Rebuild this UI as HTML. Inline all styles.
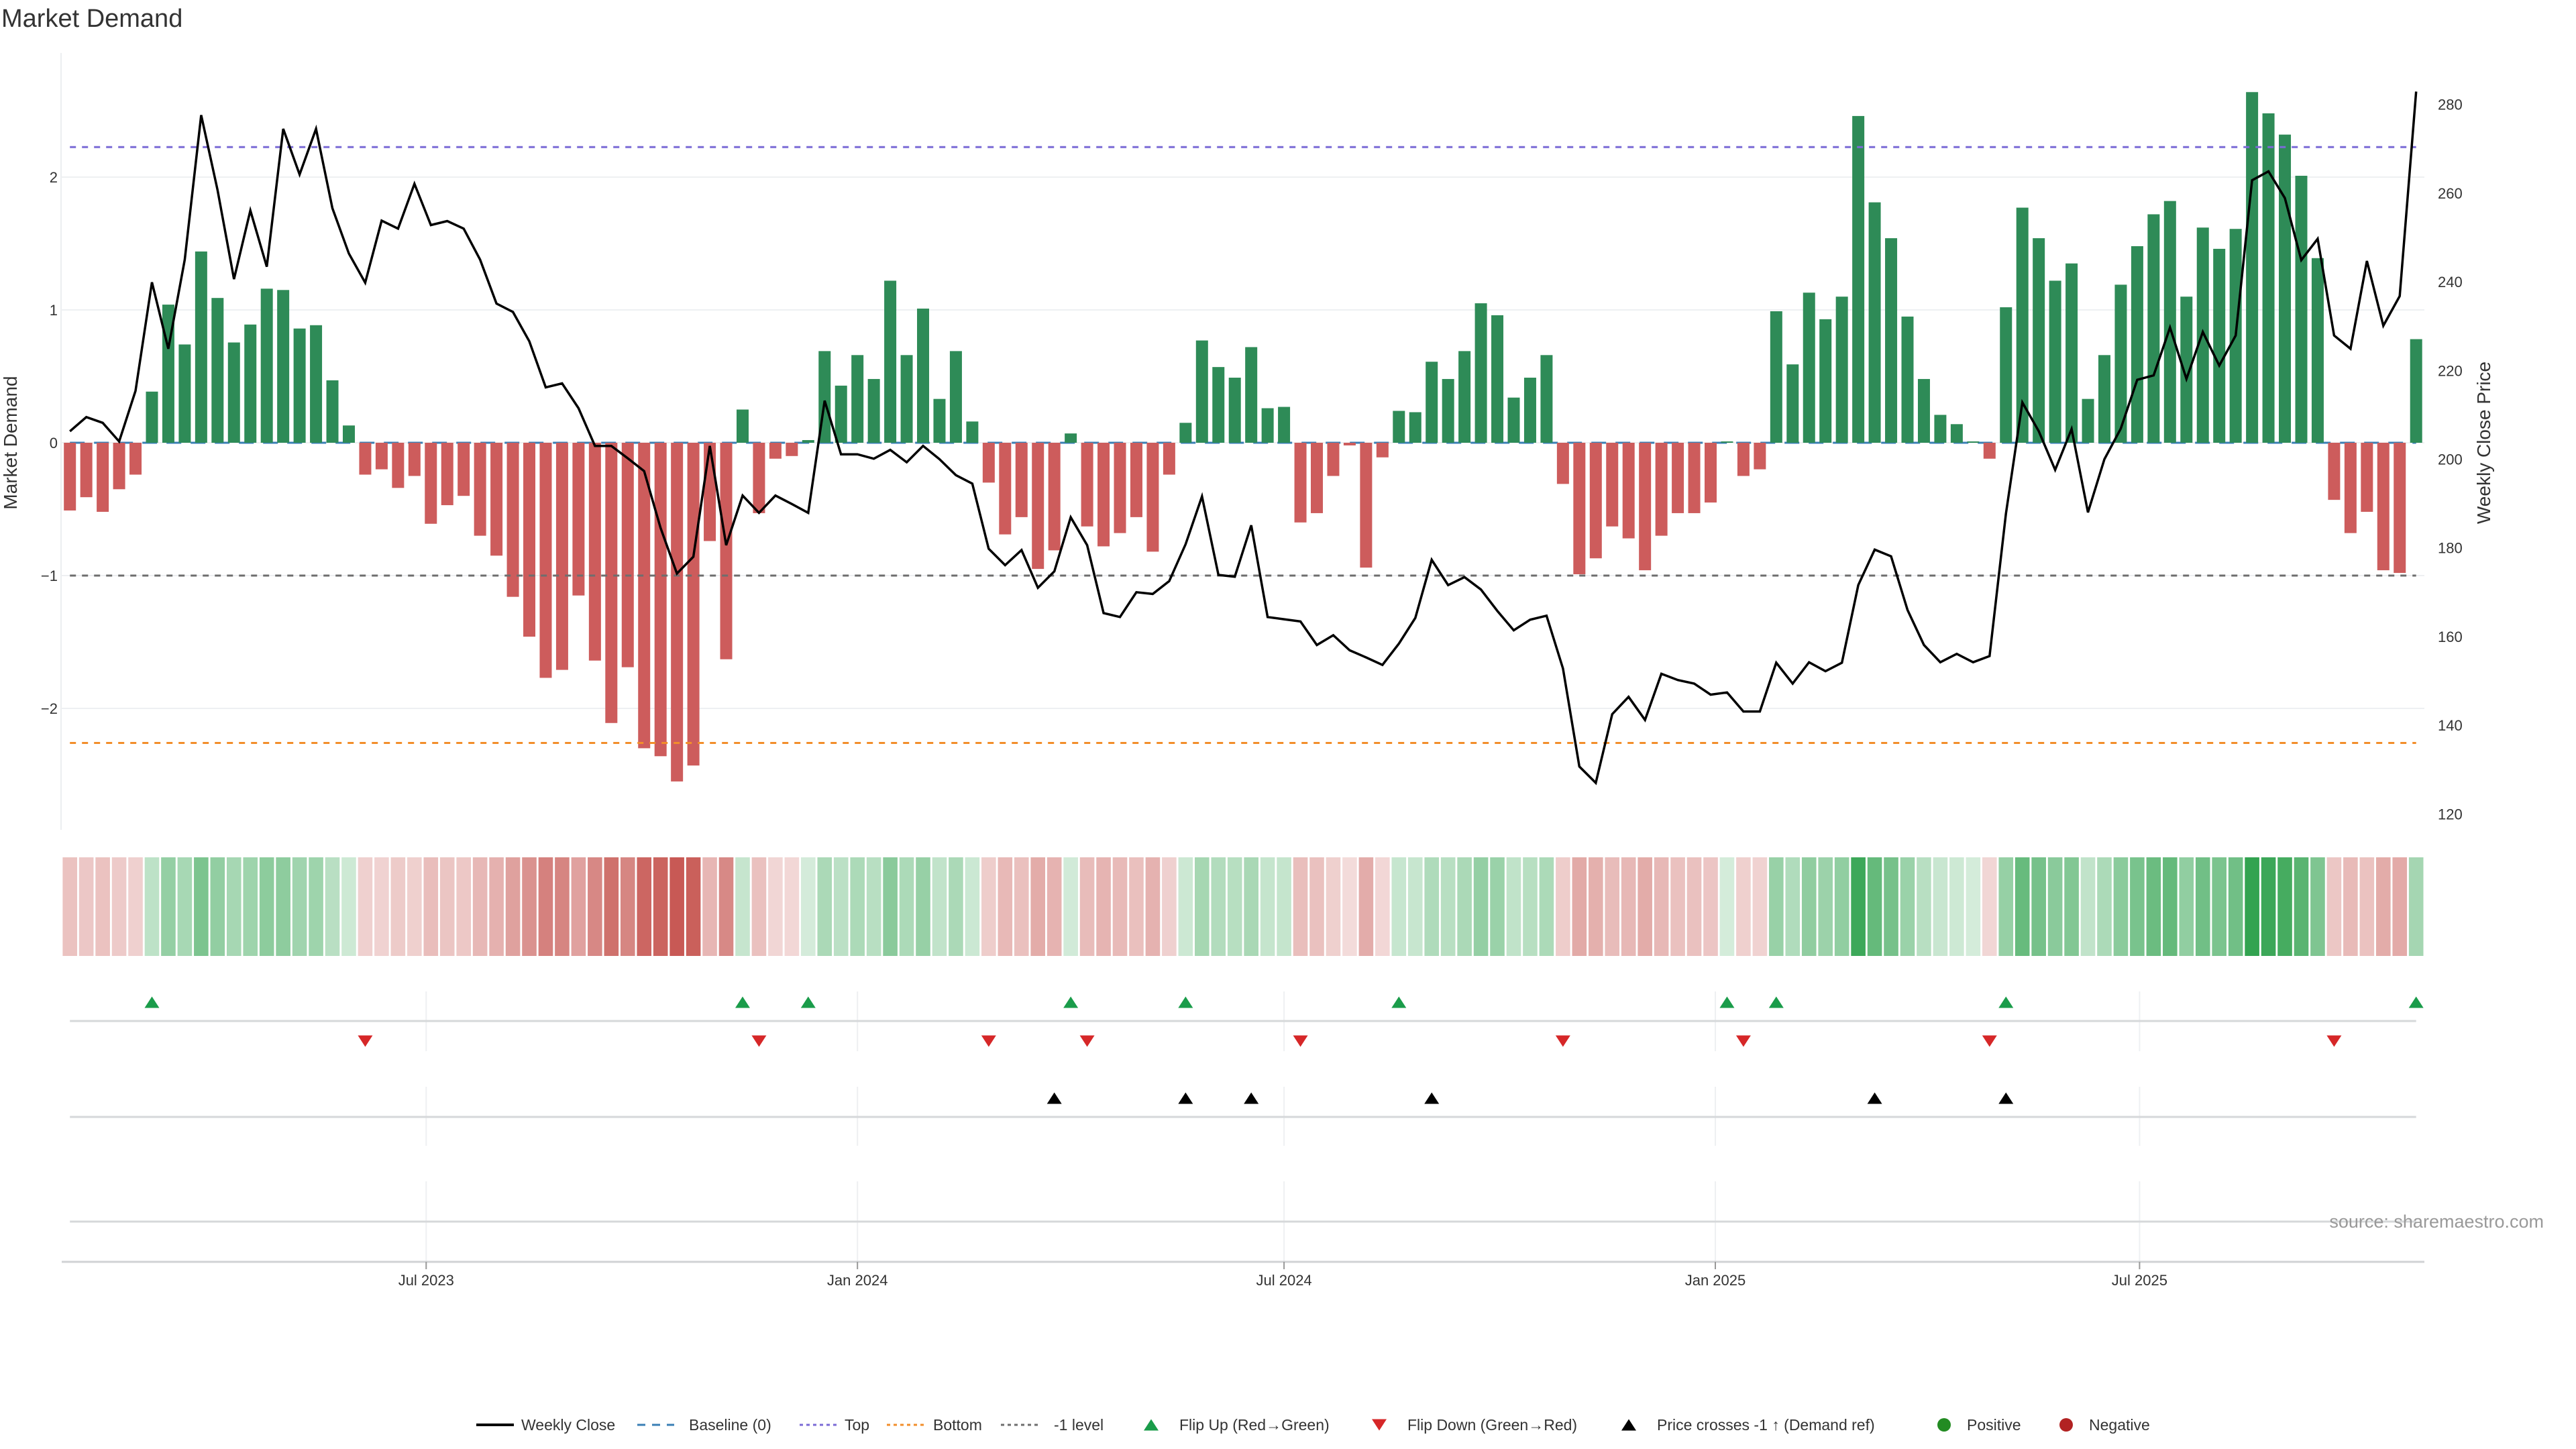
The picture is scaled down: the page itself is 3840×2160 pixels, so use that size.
<!DOCTYPE html>
<html><head><meta charset="utf-8"><title>Market Demand</title>
<style>
html,body{margin:0;padding:0;background:#fff;}
svg{display:block;font-family:"Liberation Sans","DejaVu Sans",sans-serif;}
</style></head>
<body>
<svg id="chart" width="3840" height="2160" viewBox="0 0 3840 2160" xmlns="http://www.w3.org/2000/svg">
<text x="2" y="40" font-size="38" fill="#333">Market Demand</text>
<g id="main"></g>
<g id="heat"></g>
<g id="markers"></g>
<g id="xaxis"></g>
<g id="legend"></g>
<text x="3792" y="1830" font-size="27" fill="#999" text-anchor="end">source: sharemaestro.com</text>
</svg>
<script>
const demand = [-0.51,-0.41,-0.52,-0.35,-0.24,0.385,1.04,0.74,1.44,1.09,0.755,0.89,1.16,1.15,0.86,0.885,0.47,0.13,-0.24,-0.20,
-0.34,-0.25,-0.61,-0.47,-0.40,-0.70,-0.85,-1.16,-1.46,-1.77,-1.71,-1.15,-1.64,-2.11,-1.69,-2.30,-2.36,-2.55,-2.43,-0.74,
-1.63,0.25,-0.53,-0.12,-0.10,0.02,0.69,0.43,0.66,0.48,1.22,0.66,1.01,0.33,0.69,0.16,-0.30,-0.69,-0.56,-0.95,
-0.81,0.07,-0.63,-0.78,-0.68,-0.56,-0.82,-0.24,0.15,0.77,0.57,0.49,0.72,0.26,0.27,-0.60,-0.53,-0.25,-0.02,-0.94,
-0.11,0.24,0.23,0.61,0.48,0.69,1.05,0.96,0.34,0.49,0.66,-0.31,-0.99,-0.87,-0.63,-0.72,-0.96,-0.70,-0.53,-0.53,
-0.45,0.01,-0.25,-0.20,0.99,0.59,1.13,0.93,1.10,2.46,1.81,1.54,0.95,0.48,0.21,0.14,0.01,-0.12,1.02,1.77,
1.54,1.22,1.35,0.33,0.66,1.19,1.48,1.72,1.82,1.10,1.62,1.46,1.61,2.64,2.48,2.32,2.01,1.39,-0.43,-0.68,
-0.52,-0.96,-0.98,0.78];
const price = [206.3,209.5,208.2,204.0,215.4,239.9,224.9,245.0,277.6,260.7,240.6,256.1,243.4,274.5,264.2,274.5,256.6,246.4,239.8,253.8,
252.0,262.1,252.8,253.7,252.0,245.0,235.1,233.2,226.6,216.2,217.1,211.5,203.0,203.0,200.2,197.3,184.5,174.2,178.0,203.0,
180.6,191.8,187.9,191.8,189.9,187.9,213.2,201.1,201.1,200.1,202.1,199.3,203.0,200.0,196.4,194.5,179.8,176.1,179.5,171.0,
174.7,186.9,180.6,165.3,164.4,170.0,169.6,172.5,180.8,191.6,173.9,173.5,185.1,164.4,163.9,163.4,158.1,160.3,156.9,155.3,
153.6,158.4,164.2,177.3,171.6,173.4,170.6,165.8,161.4,163.8,164.7,152.8,130.7,127.0,142.5,146.4,141.2,151.6,150.2,149.4,
146.9,147.4,143.1,143.1,154.1,149.4,154.2,152.2,154.1,171.6,179.6,178.1,166.0,158.1,154.2,156.1,154.2,155.6,187.7,212.8,
206.3,197.6,206.8,188.0,200.0,206.9,217.9,218.9,229.7,218.1,228.7,221.1,227.9,262.9,264.9,258.9,244.9,249.7,227.9,224.9,
244.7,230.1,236.8,282.9];
const demandTicks = [-2,-1,0,1,2];
const demandTickLabels = ["\u22122","\u22121","0","1","2"];
const priceTicks = [120,140,160,180,200,220,240,260,280];
const levels = [2.226, 0, -1, -2.26];
const xTickLabels = ["Jul 2023","Jan 2024","Jul 2024","Jan 2025","Jul 2025"];
const xTickDates = ["2023-07-01","2024-01-01","2024-07-01","2025-01-01","2025-07-01"];
const startDate = "2023-01-30";

const NS = "http://www.w3.org/2000/svg";
function mk(tag, attrs, parent){ const e=document.createElementNS(NS,tag); for(const k in attrs) e.setAttribute(k,attrs[k]); parent.appendChild(e); return e; }

const dayMs = 86400000;
const t0 = Date.parse(startDate);
const X0 = 104.2, PXDAY = 3.494;
function xDay(d){ return X0 + d*PXDAY; }
function xIdx(i){ return xDay(i*7); }
const Y0 = 660, PXU = 198;
function yD(v){ return Y0 - v*PXU; }
const P280 = 155.7, PXP = 6.61;
function yP(p){ return P280 - (p-280)*PXP; }
function pFromY(y){ return 280 - (y-P280)/PXP; }

const main = document.getElementById('main');
let l = mk('line',{x1:91,y1:79,x2:91,y2:1237,stroke:'#eceef0','stroke-width':2},main);


demandTicks.forEach((v,k)=>{
  const g = mk('line',{x1:91,y1:yD(v),x2:3614,y2:yD(v),stroke:'#eef0f2','stroke-width':2},main);
  
  
  const t = mk('text',{x:86,y:yD(v)+8,'font-size':22,fill:'#333','text-anchor':'end'},main);
  t.textContent = demandTickLabels[k];
  
  
});
priceTicks.forEach(p=>{
  const t = mk('text',{x:3634,y:yP(p)+8,'font-size':22,fill:'#333'},main);
  t.textContent = p;
  
  
});
let yt = mk('text',{x:0,y:0,'font-size':28,fill:'#333','text-anchor':'middle',transform:'translate(25,660) rotate(-90)'},main);
yt.textContent='Market Demand';


let yt2 = mk('text',{x:0,y:0,'font-size':28,fill:'#333','text-anchor':'middle',transform:'translate(3712,660) rotate(-90)'},main);
yt2.textContent='Weekly Close Price';



const xL = xIdx(0), xR = xIdx(demand.length-1);
let bl = mk('line',{x1:xL,y1:yD(levels[1]),x2:xR,y2:yD(levels[1]),stroke:'#3a7fb5','stroke-width':3,'stroke-dasharray':'22 14'},main);


demand.forEach((v,i)=>{
  const y = Math.min(yD(v),yD(0)), h = Math.abs(yD(v)-yD(0));
  const r = mk('rect',{x:xIdx(i)-9,y:y,width:18,height:Math.max(h,0.5),fill:v>=0?'#2e8b57':'#cd5c5c'},main);
  
  
});
const lvl = [[levels[0],'#7b6bd6','level-top','9 9'],[levels[2],'#6e6e6e','level-minus-one','9 9'],[levels[3],'#f28e2b','level-bottom','9 9']];
lvl.forEach(a=>{
  const e = mk('line',{x1:xL,y1:yD(a[0]),x2:xR,y2:yD(a[0]),stroke:a[1],'stroke-width':3,'stroke-dasharray':a[3]},main);
  
  
});
let pts = price.map((p,i)=>xIdx(i).toFixed(1)+','+yP(p).toFixed(1)).join(' ');
let pl = mk('polyline',{points:pts,fill:'none',stroke:'#000','stroke-width':3.5,'stroke-linejoin':'miter'},main);



const heat = document.getElementById('heat');
demand.forEach((v,i)=>{
  const a = 0.2 + 0.8*Math.min(Math.abs(v)/2.7,1);
  const r = mk('rect',{x:xIdx(i)-10.8,y:1278,width:21.6,height:147,fill:v>=0?'#2ea14c':'#c5524d','fill-opacity':a.toFixed(3)},heat);
  
  
});

const mkp = document.getElementById('markers');
const tickDays = xTickDates.map(d=>(Date.parse(d)-t0)/dayMs);
[[1478,1567],[1620,1708],[1761,1881]].forEach(s=>{
  tickDays.forEach(d=>{
    const e = mk('line',{x1:xDay(d),y1:s[0],x2:xDay(d),y2:s[1],stroke:'#eef0f2','stroke-width':2},mkp);
    
    
  });
});
[1522,1665,1821].forEach(y=>{
  const e = mk('line',{x1:xL,y1:y,x2:xR,y2:y,stroke:'#d6d8da','stroke-width':3},mkp);
  
  
});
function tri(x,y,up,color,name){
  const w=11,h=17;
  const p = up ? `${x-w},${y+h/2} ${x+w},${y+h/2} ${x},${y-h/2}` : `${x-w},${y-h/2} ${x+w},${y-h/2} ${x},${y+h/2}`;
  const e = mk('polygon',{points:p,fill:color},mkp);
  
  
}
const priceRef = pFromY(yD(-1));
for(let i=1;i<demand.length;i++){
  if(demand[i-1]<0 && demand[i]>=0) tri(xIdx(i),1494,true,'#1a9c4a','flip-up-marker');
  if(demand[i-1]>=0 && demand[i]<0) tri(xIdx(i),1552,false,'#d62728','flip-down-marker');
  if(price[i-1]<priceRef && price[i]>=priceRef) tri(xIdx(i),1637,true,'#000','price-cross-marker');
}

const xa = document.getElementById('xaxis');
let ax = mk('line',{x1:92,y1:1881,x2:3614,y2:1881,stroke:'#d0d2d4','stroke-width':3},xa);


tickDays.forEach((d,k)=>{
  const tk = mk('line',{x1:xDay(d),y1:1881,x2:xDay(d),y2:1892,stroke:'#999','stroke-width':2},xa);
  
  
  const t = mk('text',{x:xDay(d),y:1916,'font-size':22,fill:'#333','text-anchor':'middle'},xa);
  t.textContent = xTickLabels[k];
  
  
});

const lg = document.getElementById('legend');
const LY = 2124;
function ltext(x,s){ const t=mk('text',{x:x,y:LY+8,'font-size':23,fill:'#333'},lg); t.textContent=s;
  
   }
function lline(x1,x2,c,dash,w){ const e=mk('line',{x1:x1,y1:LY,x2:x2,y2:LY,stroke:c,'stroke-width':w,'stroke-dasharray':dash},lg);
  
   }
lline(710,766,'#000','none',4); ltext(777,'Weekly Close');
lline(950,1005,'#3a7fb5','12 10',3); ltext(1027,'Baseline (0)');
lline(1192,1247,'#7b6bd6','5 5',3); ltext(1259,'Top');
lline(1322,1378,'#f28e2b','5 5',3); ltext(1391,'Bottom');
lline(1492,1548,'#6e6e6e','5 5',3); ltext(1571,'-1 level');
function ltri(x,up,c){ const w=11,h=17,y=LY;
  const p = up ? `${x-w},${y+h/2} ${x+w},${y+h/2} ${x},${y-h/2}` : `${x-w},${y-h/2} ${x+w},${y-h/2} ${x},${y+h/2}`;
  const e=mk('polygon',{points:p,fill:c},lg);
  
   }
ltri(1716,true,'#1a9c4a'); ltext(1758,'Flip Up (Red\u2192Green)');
ltri(2056,false,'#d62728'); ltext(2098,'Flip Down (Green\u2192Red)');
ltri(2428,true,'#000'); ltext(2470,'Price crosses -1 \u2191 (Demand ref)');
let c1=mk('circle',{cx:2898,cy:LY,r:10,fill:'#228b22'},lg);


ltext(2932,'Positive');
let c2=mk('circle',{cx:3080,cy:LY,r:10,fill:'#b22222'},lg);


ltext(3114,'Negative');
</script>
</body></html>
